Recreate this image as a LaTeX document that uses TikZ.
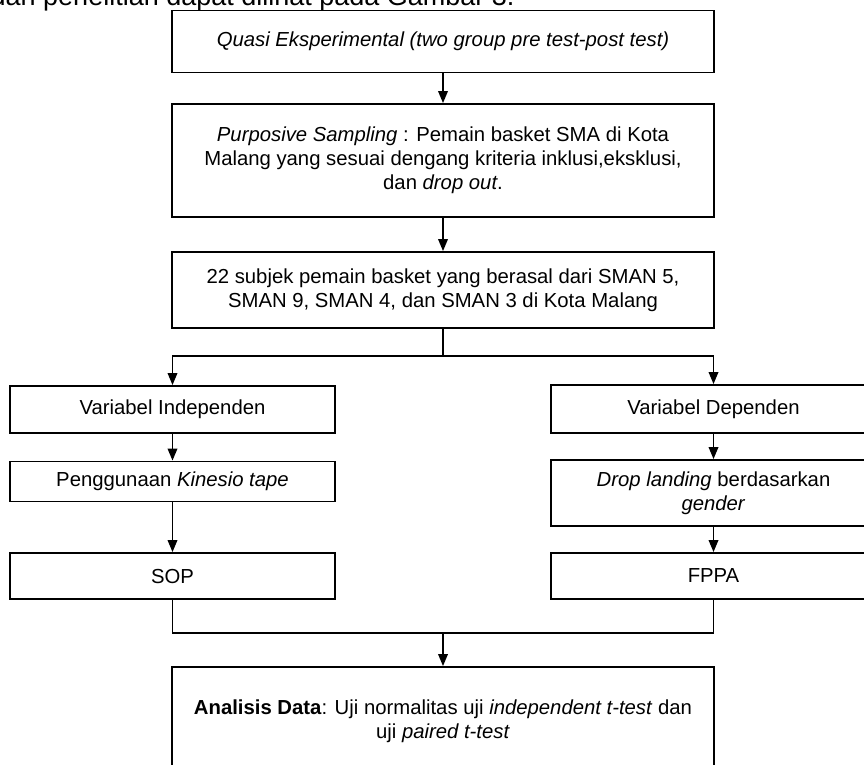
\documentclass[tikz,border=0pt]{standalone}
\usepackage{fontspec}
\setmainfont{Liberation Sans}
\usetikzlibrary{arrows.meta}
\tikzset{
  flowbox/.style={draw=black, line width=1.8pt, rectangle, inner sep=0pt, align=center,
    font=\fontsize{20.3}{24}\selectfont},
  conn/.style={line width=1.8pt, draw=black},
  arr/.style={conn, -{Triangle[length=12pt,width=9.5pt]}},
}
\begin{document}
\begin{tikzpicture}[x=1pt, y=-1pt]
\useasboundingbox (0,0) rectangle (864,764);
\clip (0,0) rectangle (864,764);
\fill[white] (0,0) rectangle (864,764);

\node[anchor=base west, inner sep=0pt, font=\fontsize{27}{30}\selectfont] (intro) at (-9.5,5)
  {dan penelitian dapat dilihat pada Gambar 3.};

\node[flowbox, minimum width=542pt, minimum height=62pt] (b1) at (443,41.5)
  {\textit{Quasi Eksperimental (two group pre test-post test)}};
\node[flowbox, minimum width=542pt, minimum height=113pt] (b2) at (443,160.5)
  {\textit{Purposive Sampling} : Pemain basket SMA di Kota\\
   Malang yang sesuai dengang kriteria inklusi,eksklusi,\\
   dan \textit{drop out}.};
\node[flowbox, minimum width=542pt, minimum height=76pt] (b3) at (443,290)
  {22 subjek pemain basket yang berasal dari SMAN 5,\\
   SMAN 9, SMAN 4, dan SMAN 3 di Kota Malang};

\node[flowbox, minimum width=325pt, minimum height=47pt] (l1) at (172.5,409.5) {Variabel Independen};
\node[flowbox, minimum width=325pt, minimum height=40pt] (l2) at (172.5,481.5) {Penggunaan \textit{Kinesio tape}};
\node[flowbox, minimum width=325pt, minimum height=46pt] (l3) at (172.5,576) {SOP};

\node[flowbox, minimum width=325pt, minimum height=48pt] (r1) at (713.5,409) {Variabel Dependen};
\node[flowbox, minimum width=325pt, minimum height=66pt] (r2) at (713.5,493)
  {\textit{Drop landing} berdasarkan\\ \textit{gender}};
\node[flowbox, minimum width=325pt, minimum height=46pt] (r3) at (713.5,576) {FPPA};

\node[flowbox, minimum width=542pt, minimum height=108pt] (fin) at (443,721)
  {\textbf{Analisis Data}: Uji normalitas uji \textit{independent t-test} dan\\
   uji \textit{paired t-test}};

\coordinate (split) at (443,356);
\coordinate (merge) at (443,633);

\draw[arr] (b1) -- (b2);
\draw[arr] (b2) -- (b3);
\draw[conn] (b3.south) -- (split);
\draw[arr] (split) -| (l1.north);
\draw[arr] (split) -| (r1.north);
\draw[arr] (l1) -- (l2);
\draw[arr] (l2) -- (l3);
\draw[arr] (r1) -- (r2);
\draw[arr] (r2) -- (r3);
\draw[conn] (l3.south) |- (merge);
\draw[conn] (r3.south) |- (merge);
\draw[arr] (merge) -- (fin.north);
\end{tikzpicture}
\end{document}
